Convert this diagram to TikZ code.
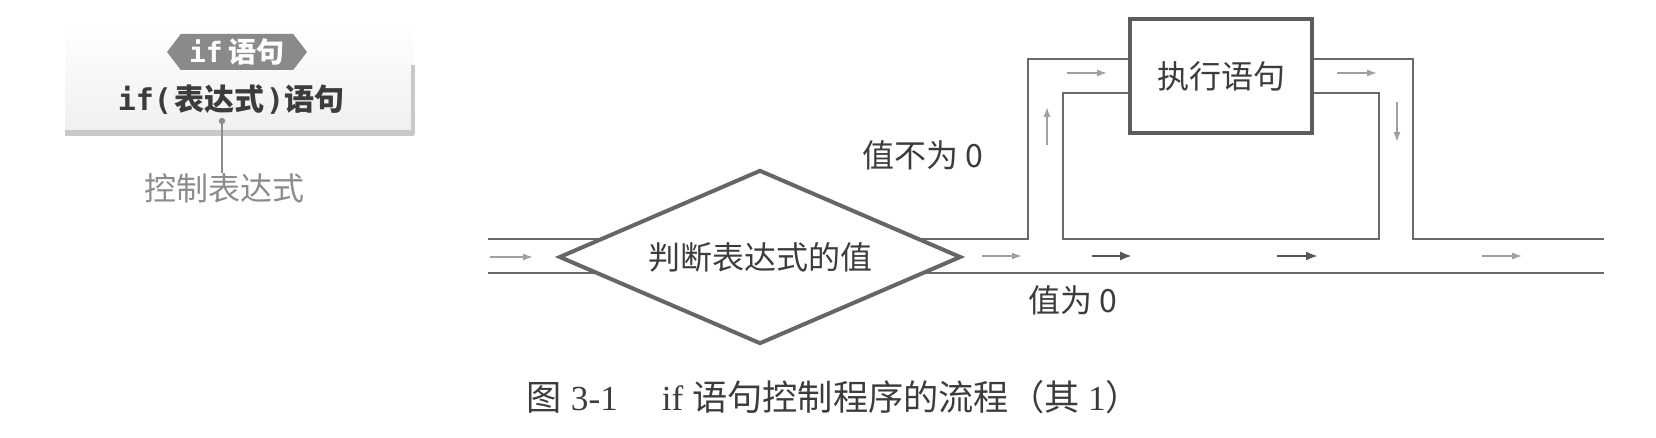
\documentclass[tikz,border=0pt]{standalone}
\usepackage{fontspec}
\setmainfont{Liberation Serif}
\newfontfamily\cjk{Noto Sans CJK SC}
\newfontfamily\monof{DejaVu Sans Mono}
\usetikzlibrary{shapes.geometric,shapes.symbols,arrows.meta}
\definecolor{wallc}{HTML}{6a6a6a}
\definecolor{boxc}{HTML}{5c5c5c}
\definecolor{diac}{HTML}{666666}
\definecolor{lightarr}{HTML}{a0a0a0}
\definecolor{darkarr}{HTML}{555555}
\definecolor{txtc}{HTML}{3c3c3c}
\definecolor{hexc}{HTML}{8a8a8a}
\definecolor{barc}{HTML}{c9c9c9}
\definecolor{leadc}{HTML}{8c8c8c}
\tikzset{
  wall/.style={draw=wallc, line width=1.3pt},
  decision/.style={diamond, draw=diac, line width=2pt, fill=white, aspect=2.3,
    minimum width=201pt, minimum height=87pt, inner sep=0pt,
    font=\cjk\fontsize{16pt}{18pt}\selectfont, text=txtc},
  proc/.style={rectangle, draw=boxc, line width=2.2pt, fill=white,
    minimum width=91pt, minimum height=57pt, inner sep=0pt,
    font=\cjk\fontsize{16pt}{18pt}\selectfont, text=txtc},
  lbl/.style={font=\cjk\fontsize{16pt}{18pt}\selectfont, text=txtc, inner sep=0pt},
  larrow/.style={draw=lightarr, line width=0.8pt, -{Latex[length=5pt,width=3.6pt]}},
  darrow/.style={draw=darkarr, line width=1.3pt, -{Latex[length=6pt,width=4.6pt]}},
  hexlabel/.style={signal, signal to=west and east, signal pointer angle=105,
    fill=hexc, text=white, minimum width=70pt, minimum height=18pt, inner sep=1pt,
    font=\bfseries\fontsize{14pt}{16pt}\selectfont},
  syntax/.style={inner sep=0pt, text=txtc, font=\bfseries\fontsize{15pt}{17pt}\selectfont},
  leader/.style={draw=leadc, line width=0.7pt},
  ctrllbl/.style={inner sep=0pt, text=leadc, font=\cjk\fontsize{16pt}{18pt}\selectfont},
  caption/.style={inner sep=0pt, text=txtc, font=\fontsize{17.6pt}{20pt}\selectfont}
}
\begin{document}
\begin{tikzpicture}[x=0.5pt,y=-0.5pt]
\useasboundingbox (0,0) rectangle (1656,438);

% ---- left panel ----
\shade[top color=white, bottom color=black!6] (65,22) rectangle (413,132);
\draw[draw=barc, line width=2.6pt] (65,133) -- (414,133);
\draw[draw=barc, line width=1.6pt] (413,65) -- (413,134);
\node[hexlabel] (tag) at (237,52) {{\monof if}\hspace{3pt}{\cjk 语句}};
\node[syntax] (syn) at (231,100) {{\monof if(}\hspace{1pt}{\cjk 表达式}\hspace{1pt}{\monof )}{\cjk 语句}};
\coordinate (dot) at (222,121);
\fill[leadc] (dot) circle (1.6pt);
\node[ctrllbl] (ctrl) at (224,188) {控制表达式};
\draw[leader] (dot) -- (dot |- ctrl.north);

% ---- channel walls ----
\draw[wall] (488,239) -- (1028,239) -- (1028,59) -- (1130,59);
\draw[wall] (1130,93) -- (1063,93) -- (1063,239) -- (1379,239) -- (1379,93) -- (1312,93);
\draw[wall] (1312,59) -- (1413,59) -- (1413,239) -- (1604,239);
\draw[wall] (488,273) -- (1604,273);

% ---- nodes ----
\node[decision] (dec) at (760,257) {判断表达式的值};
\node[proc] (exec) at (1221,76) {执行语句};

% ---- flow arrows ----
\draw[larrow] (490,257) -- (533,257);
\draw[larrow] (982,256) -- (1022,256);
\draw[darrow] (1092,256) -- (1132,256);
\draw[darrow] (1277,256) -- (1318,256);
\draw[larrow] (1482,256) -- (1522,256);
\draw[larrow] (1047,145) -- (1047,107);
\draw[larrow] (1067,73) -- (1107,73);
\draw[larrow] (1337,73) -- (1377,73);
\draw[larrow] (1397,102) -- (1397,142);

% ---- labels ----
\node[lbl] (nz) at (923,155) {值不为 0};
\node[lbl] (z) at (1073,300) {值为 0};

% ---- caption ----
\node[caption] (cap) at (834,397) {{\cjk 图} 3-1\hspace{22pt}if {\cjk 语句控制程序的流程（其} 1{\cjk ）}};
\end{tikzpicture}
\end{document}
